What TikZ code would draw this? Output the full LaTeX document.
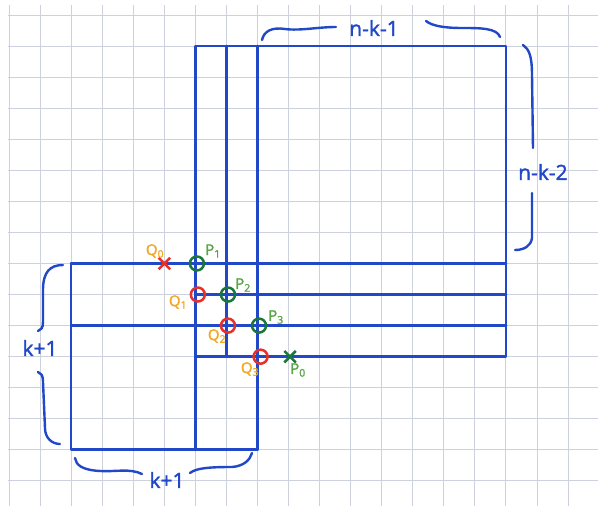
\documentclass[tikz,border=0pt]{standalone}
\usepackage{fontspec}
\setmainfont{Open Sans}
\newfontfamily\handfont[FakeBold=1.6]{Open Sans}
\usetikzlibrary{shapes.misc}
\definecolor{ink}{RGB}{32,72,200}
\definecolor{gridc}{RGB}{206,209,222}
\definecolor{pdark}{RGB}{25,120,55}
\definecolor{plight}{RGB}{90,165,70}
\definecolor{qred}{RGB}{232,48,40}
\definecolor{qorange}{RGB}{242,168,35}
\begin{document}
\begin{tikzpicture}[x=1pt,y=-1pt,
  gridline/.style={gridc, line width=1pt},
  wall/.style={ink, line width=2.7pt, line cap=round, line join=round},
  bracepath/.style={ink, line width=2.4pt, line cap=round, line join=round},
  ring/.style={circle, draw, line width=2.5pt, minimum size=14pt, inner sep=0pt},
  pring/.style={ring, pdark},
  qring/.style={ring, qred},
  xmark/.style={cross out, draw, line width=2.5pt, minimum size=9pt, inner sep=0pt},
  lab/.style={ink, font=\handfont\fontsize{21}{21}\selectfont, inner sep=0pt},
  qlab/.style={qorange, font=\handfont\fontsize{15}{15}\selectfont, inner sep=0pt},
  plab/.style={plight, font=\handfont\fontsize{15}{15}\selectfont, inner sep=0pt}]
\useasboundingbox (0,0) rectangle (598,506);
\fill[white] (0,0) rectangle (598,506);
\begin{scope}[shift={(9pt,-15pt)}, x=31.06pt, y=-31.06pt]
  % grid
  \foreach \i in {0,...,19} \draw[gridline] (\i,-0.33) -- (\i,15.8);
  \foreach \j in {0,...,15} \draw[gridline] (-0.03,\j) -- (19,\j);
  % blue construction
  \draw[wall] (6,1) rectangle (16,11);
  \draw[wall] (7,1) -- (7,11);
  \draw[wall] (8,1) -- (8,14);
  \draw[wall] (6,11) -- (6,14);
  \draw[wall] (2,8) -- (16,8);
  \draw[wall] (6,9) -- (16,9);
  \draw[wall] (2,10) -- (16,10);
  \draw[wall] (2,8) -- (2,14) -- (8,14);
  % marks
  \node[xmark, qred] (q0) at (5,8) {};
  \node[pring] (p1) at (6.05,8) {};
  \node[qring] (q1) at (6.08,9) {};
  \node[pring] (p2) at (7.05,9) {};
  \node[qring] (q2) at (7.05,10) {};
  \node[pring] (p3) at (8.05,10) {};
  \node[qring] (q3) at (8.1,11) {};
  \node[xmark, pdark] (p0) at (9.05,11) {};
\end{scope}
% point labels
\node[qlab] (q0l) at (155,251) {Q\textsubscript{0}};
\node[plab] (p1l) at (213,251) {P\textsubscript{1}};
\node[qlab] (q1l) at (178,302) {Q\textsubscript{1}};
\node[plab] (p2l) at (243,285) {P\textsubscript{2}};
\node[qlab] (q2l) at (217,336) {Q\textsubscript{2}};
\node[plab] (p3l) at (276,317) {P\textsubscript{3}};
\node[qlab] (q3l) at (250,369) {Q\textsubscript{3}};
\node[plab] (p0l) at (298,370) {P\textsubscript{0}};
% top brace
\draw[bracepath] (262,40) .. controls (264,31) and (272,27) .. (285,29)
  .. controls (300,31) and (318,27) .. (336,27);
\draw[bracepath] (426,21) .. controls (432,26) and (445,28) .. (462,28)
  .. controls (480,28) and (497,28) .. (500,37);
\node[lab] (nk1) at (374,28) {n-k-1};
% right brace
\draw[bracepath] (523,45) .. controls (529,49) and (532,56) .. (532,75) -- (533,148);
\draw[bracepath] (532,193) -- (532,238) .. controls (531,246) and (524,250) .. (515,250);
\node[lab, anchor=west] (nk2) at (518,172) {n-k-2};
% left brace
\draw[bracepath] (63,265) .. controls (50,265) and (43,272) .. (43,290) -- (43,322)
  .. controls (43,328) and (41,330) .. (38,331);
\draw[bracepath] (38,372) .. controls (41,373) and (43,375) .. (43,382) -- (45,428)
  .. controls (45,438) and (52,444) .. (60,444);
\node[lab] (kl) at (40,348) {k+1};
% bottom brace
\draw[bracepath] (75,458) .. controls (76,465) and (82,470) .. (100,471)
  .. controls (115,472) and (130,468) .. (142,474);
\draw[bracepath] (190,473) .. controls (196,468) and (210,467) .. (232,467)
  .. controls (244,466) and (250,460) .. (252,453);
\node[lab] (kb) at (167,480) {k+1};
\end{tikzpicture}
\end{document}
